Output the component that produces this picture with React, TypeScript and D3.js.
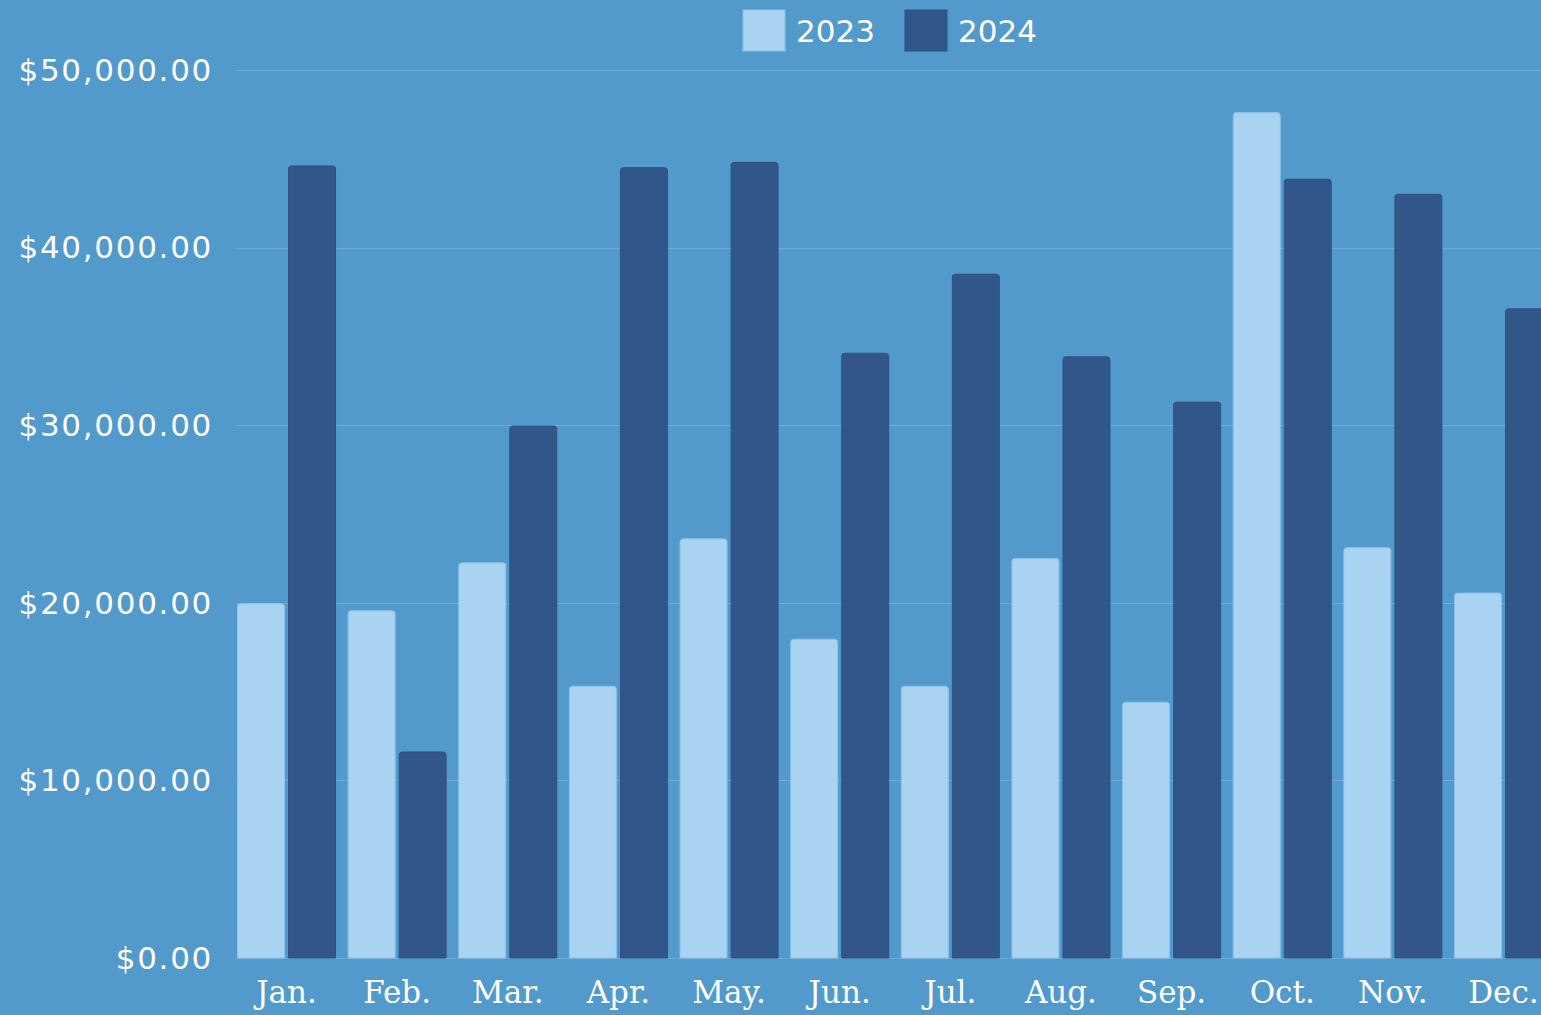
import React, { useEffect, useRef } from "react";
import * as d3 from "d3";

const months = ["Jan.", "Feb.", "Mar.", "Apr.", "May.", "Jun.", "Jul.", "Aug.", "Sep.", "Oct.", "Nov.", "Dec."];
const seriesNames = ["2023", "2024"];
const sales2023 = [19950, 19550, 22250, 15300, 23600, 17950, 15300, 22500, 14400, 47600, 23100, 20550];
const sales2024 = [44600, 11600, 29950, 44500, 44800, 34050, 38500, 33850, 31300, 43850, 43000, 36550];
const yTicks = [0, 10000, 20000, 30000, 40000, 50000];
const colors = ["#aad3f2", "#32568a"];
const strokes = ["#8fc2ea", "#2f5283"];

const App = () => {
  const svgRef = useRef<SVGSVGElement>(null);
  const width = 1541;
  const height = 1015;

  useEffect(() => {
    const svg = d3.select(svgRef.current);
    svg.selectAll("*").remove();

    svg.append("rect").attr("width", width).attr("height", height).attr("fill", "#5299cc");

    const x = d3.scaleBand().domain(months).range([237, 1553]).paddingInner(0.105).paddingOuter(0);
    const xInner = d3.scaleBand().domain(seriesNames).range([0, x.bandwidth()]).paddingInner(0.06).paddingOuter(0);
    const y = d3.scaleLinear().domain([0, 50000]).range([958, 70]);

    const money = d3.format("$,.2f");

    // Gridlines
    svg
      .append("g")
      .selectAll("line")
      .data(yTicks)
      .enter()
      .append("line")
      .attr("x1", 236)
      .attr("x2", width)
      .attr("y1", (d) => Math.round(y(d)) + 0.5)
      .attr("y2", (d) => Math.round(y(d)) + 0.5)
      .attr("stroke", "#6caad8")
      .attr("stroke-width", 1);

    // Y tick labels
    svg
      .append("g")
      .selectAll("text")
      .data(yTicks)
      .enter()
      .append("text")
      .attr("x", 213)
      .attr("y", (d) => y(d))
      .attr("dy", "0.35em")
      .attr("text-anchor", "end")
      .attr("fill", "#ffffff")
      .style("font-family", "'DejaVu Sans', sans-serif")
      .style("font-size", "31px")
      .style("letter-spacing", "1.7px")
      .text((d) => money(d));

    // Bars
    const data = months.map((m, i) => ({ month: m, values: [sales2023[i], sales2024[i]] }));
    const r = 3;
    const barPath = (x0: number, w: number, top: number, bottom: number) =>
      `M${x0},${bottom}V${top + r}Q${x0},${top} ${x0 + r},${top}H${x0 + w - r}Q${x0 + w},${top} ${x0 + w},${top + r}V${bottom}Z`;

    const groups = svg
      .append("g")
      .selectAll("g")
      .data(data)
      .enter()
      .append("g")
      .attr("transform", (d) => `translate(${x(d.month)},0)`);

    groups
      .selectAll("path")
      .data((d) => d.values.map((v, i) => ({ key: seriesNames[i], value: v, i })))
      .enter()
      .append("path")
      .attr("d", (d) => barPath(xInner(d.key)! + 0.5, xInner.bandwidth() - 1, y(d.value), y(0)))
      .attr("fill", (d) => colors[d.i])
      .attr("stroke", (d) => strokes[d.i])
      .attr("stroke-width", 1);

    // Month labels
    svg
      .append("g")
      .selectAll("text")
      .data(months)
      .enter()
      .append("text")
      .attr("x", (d) => x(d)! + x.bandwidth() / 2)
      .attr("y", 992)
      .attr("dy", "0.35em")
      .attr("text-anchor", "middle")
      .attr("fill", "#ffffff")
      .style("font-family", "'DejaVu Serif', serif")
      .style("font-size", "31px")
      .text((d) => d);

    // Legend
    const legend = svg.append("g");
    const legendX = [743, 905];
    seriesNames.forEach((name, i) => {
      legend
        .append("rect")
        .attr("x", legendX[i])
        .attr("y", 10)
        .attr("width", 42)
        .attr("height", 41)
        .attr("fill", colors[i])
        .attr("stroke", strokes[i])
        .attr("stroke-width", 1);
      legend
        .append("text")
        .attr("x", legendX[i] + 53)
        .attr("y", 31)
        .attr("dy", "0.35em")
        .attr("fill", "#ffffff")
        .style("font-family", "'DejaVu Sans', sans-serif")
        .style("font-size", "31px")
        .text(name);
    });
  }, []);

  return (
    <svg
      ref={svgRef}
      width={width}
      height={height}
      style={{ position: "absolute", left: 0, top: 0, display: "block" }}
    ></svg>
  );
};

export default App;
